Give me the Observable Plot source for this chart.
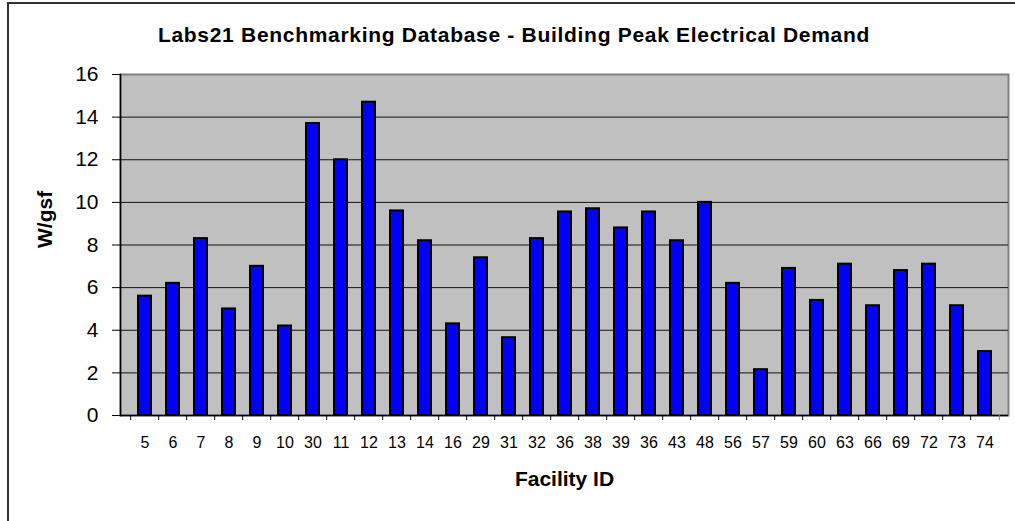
<!DOCTYPE html>
<html><head><meta charset="utf-8">
<script src="https://cdn.jsdelivr.net/npm/d3@7"></script>
<script src="https://cdn.jsdelivr.net/npm/@observablehq/plot@0.6"></script>
<style>
body{margin:0;background:#fff;}
#wrap{position:relative;width:1015px;height:521px;overflow:hidden;font-family:Arial,"Liberation Sans",sans-serif;}
#border{position:absolute;left:7px;top:2px;width:1020px;height:530px;border-left:2px solid #333;border-top:2px solid #333;}
#title{position:absolute;left:0;top:24px;width:1028px;text-align:center;font-weight:bold;font-size:21px;letter-spacing:0.7px;line-height:21px;color:#000;}
#chart{position:absolute;left:0;top:0;}
</style></head><body>
<div id="wrap"><div id="chart"></div><div id="border"></div><div id="title">Labs21 Benchmarking Database - Building Peak Electrical Demand</div></div>
<script>
const facilityIds = ["5","6","7","8","9","10","30","11","12","13","14","16","29","31","32","36","38","39","36","43","48","56","57","59","60","63","66","69","72","73","74"];
const peakDemand = [5.6,6.2,8.3,5.0,7.0,4.2,13.7,12.0,14.7,9.6,8.2,4.3,7.4,3.65,8.3,9.55,9.7,8.8,9.55,8.2,10.0,6.2,2.15,6.9,5.4,7.1,5.15,6.8,7.1,5.15,3.0];
const yTicks = [0,2,4,6,8,10,12,14,16];
const data = facilityIds.map((id, i) => ({i, id, v: peakDemand[i]}));
const idx = d3.range(facilityIds.length);
const W = 1015, H = 521, ML = 120, MR = 7, MT = 74, MB = 106;
const step = (W - ML - MR) / facilityIds.length;
const chart = Plot.plot({
  width: W, height: H, marginLeft: ML, marginRight: MR, marginTop: MT, marginBottom: MB,
  style: {fontFamily: 'Arial, "Liberation Sans", sans-serif', background: "transparent", color: "#000"},
  x: {type: "band", domain: idx, paddingInner: 0.55, paddingOuter: 0.275, align: 0.5},
  y: {domain: [0, 16]},
  marks: [
    Plot.frame({fill: "#C0C0C0", stroke: "#808080", strokeWidth: 2}),
    Plot.gridY(yTicks.slice(1, -1), {stroke: "#111", strokeOpacity: 1, strokeWidth: 1}),
    Plot.barY(data, {x: "i", y: "v", fill: "#0000FF", stroke: "#000", strokeWidth: 2}),
    Plot.ruleY([0], {stroke: "#000", strokeWidth: 1.5}),
    Plot.frame({anchor: "left", stroke: "#000", strokeWidth: 1.5}),
    Plot.axisY(yTicks, {tickSize: 8, tickPadding: 14, fontSize: 21, label: null, stroke: "#000"}),
    Plot.axisX(idx, {tickSize: 0, tickPadding: 21, fontSize: 16, tickFormat: i => facilityIds[i], label: null}),
    Plot.axisX(idx, {tickSize: 5, tickFormat: () => "", dx: -step / 2, label: null, stroke: "#000"}),
    Plot.axisX([idx[idx.length - 1]], {tickSize: 5, tickFormat: () => "", dx: step / 2, label: null, stroke: "#808080"}),
    Plot.text(["W/gsf"], {frameAnchor: "left", rotate: -90, dx: -75, dy: 3, fontSize: 21, fontWeight: "bold", lineAnchor: "middle"}),
    Plot.text(["Facility ID"], {frameAnchor: "bottom", dy: 64, fontSize: 21, fontWeight: "bold", lineAnchor: "middle"})
  ]
});
document.getElementById("chart").append(chart);
</script>
</body></html>
